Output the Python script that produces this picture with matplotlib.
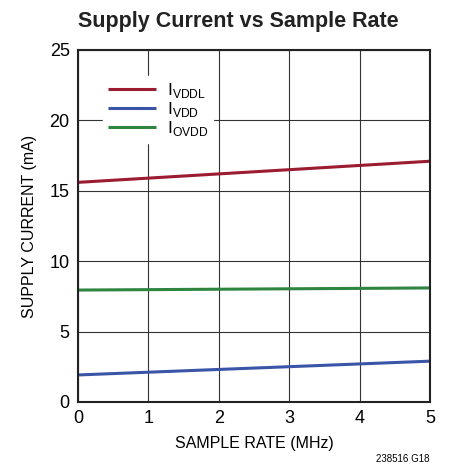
import matplotlib
matplotlib.use("Agg")
import matplotlib.pyplot as plt
from matplotlib import font_manager

names = {f.name for f in font_manager.fontManager.ttflist}
fam = "Liberation Sans Narrow" if "Liberation Sans Narrow" in names else "Liberation Sans"
plt.rcParams['font.family'] = [fam, 'DejaVu Sans']

x = [0, 5]
ivddl = [15.6, 17.1]
ivdd = [1.92, 2.9]
iovdd = [7.95, 8.1]
labels = [r"I$_{\mathregular{VDDL}}$", r"I$_{\mathregular{VDD}}$", r"I$_{\mathregular{OVDD}}$"]
colors = ["#9b1b30", "#3a55a8", "#2e8540"]

fig = plt.figure(figsize=(4.5, 4.72), dpi=100)
ax = fig.add_axes([78/450, 70/472, 352/450, 352/472])
for ys, lab, c in zip([ivddl, ivdd, iovdd], labels, colors):
    ax.plot(x, ys, color=c, lw=2.2, label=lab, solid_capstyle='butt')

ax.set_xlim(0, 5)
ax.set_ylim(0, 25)
ax.set_xticks(range(0, 6))
ax.set_yticks(range(0, 26, 5))
ax.grid(True, color="#333333", lw=0.8)
ax.tick_params(length=0, labelsize=13, pad=6)
for s in ax.spines.values():
    s.set_linewidth(1.5)
    s.set_color("#222222")
ax.set_xlabel("SAMPLE RATE (MHz)", fontsize=11.5, labelpad=6)
ax.set_ylabel("SUPPLY CURRENT (mA)", fontsize=11.5, labelpad=9)
fig.text(0.53, 0.955, "Supply Current vs Sample Rate", ha='center', va='center',
         fontsize=15.5, fontweight='bold', color="#222222")
fig.text(0.955, 0.018, "238516 G18", ha='right', va='bottom', fontsize=7)
leg = ax.legend(loc='upper left', bbox_to_anchor=(0.045, 0.952), frameon=True,
                fontsize=12.5, handlelength=2.8, borderpad=0.3, labelspacing=0.0,
                handletextpad=0.6, fancybox=False)
leg.get_frame().set_edgecolor('white')
leg.get_frame().set_facecolor('white')
leg.get_frame().set_alpha(1)
fig.savefig("out.png", dpi=100)
